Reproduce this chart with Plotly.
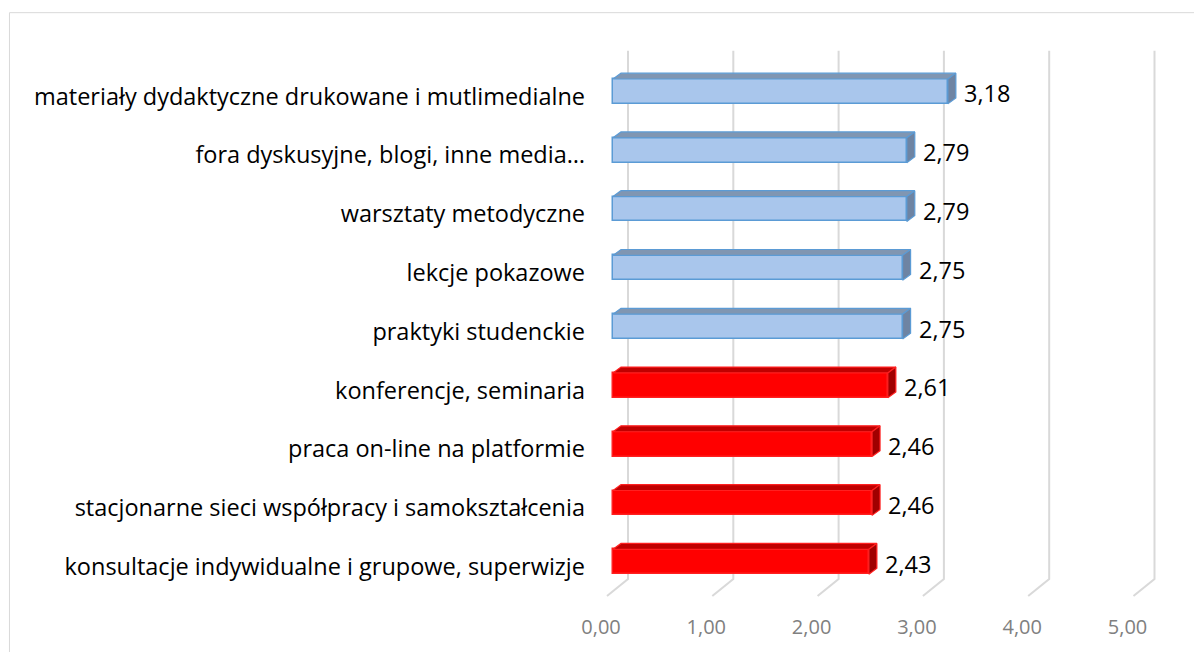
import plotly.graph_objects as go

# ---- data (top to bottom as shown) ----
categories = [
    "materiały dydaktyczne drukowane i mutlimedialne",
    "fora dyskusyjne, blogi, inne media…",
    "warsztaty metodyczne",
    "lekcje pokazowe",
    "praktyki studenckie",
    "konferencje, seminaria",
    "praca on-line na platformie",
    "stacjonarne sieci współpracy i samokształcenia",
    "konsultacje indywidualne i grupowe, superwizje",
]
values = [3.18, 2.79, 2.79, 2.75, 2.75, 2.61, 2.46, 2.46, 2.43]
highlight = [False, False, False, False, False, True, True, True, True]
tick_values = [0, 1, 2, 3, 4, 5]
tick_labels = ["0,00", "1,00", "2,00", "3,00", "4,00", "5,00"]

# ---- styling / 3D projection constants ----
FONT = "Open Sans"
BLUE_FRONT, BLUE_EDGE, BLUE_TOP, BLUE_SIDE = "#a9c6ec", "#5b9bd5", "#8096b2", "#6e84a3"
RED_FRONT, RED_EDGE, RED_TOP, RED_SIDE = "#ff0000", "#ff2020", "#c00000", "#a00000"
BAR_W = 0.423          # bar thickness in category units
DX, DY = 0.076, 0.10   # bar depth offset
BACK_DX = 0.1425       # back wall offset
WALL_TOP, WALL_BOT = 8.694, -0.296
FLOOR_DX, FLOOR_Y = -0.057, -0.584

n = len(categories)
pos = list(range(n - 1, -1, -1))  # top category gets highest position

fig = go.Figure()

# back wall gridlines + floor diagonals (below traces)
for t in tick_values:
    fig.add_shape(type="path", xref="x", yref="y", layer="below",
                  path=f"M {t + BACK_DX},{WALL_TOP} L {t + BACK_DX},{WALL_BOT} L {t + FLOOR_DX},{FLOOR_Y}",
                  line=dict(color="#d9d9d9", width=2))

# 3D faces
def faces(sel):
    tx, ty, sx, sy = [], [], [], []
    for v, p, h in zip(values, pos, highlight):
        if h != sel:
            continue
        top = p + BAR_W / 2
        bot = p - BAR_W / 2
        tx += [0, v, v + DX, DX, 0, None]
        ty += [top, top, top + DY, top + DY, top, None]
        sx += [v, v + DX, v + DX, v, v, None]
        sy += [bot, bot + DY, top + DY, top, bot, None]
    return tx, ty, sx, sy

# front faces
fig.add_trace(go.Bar(
    x=values, y=pos, orientation="h", width=BAR_W,
    marker=dict(color=[RED_FRONT if h else BLUE_FRONT for h in highlight],
                line=dict(color=[RED_EDGE if h else BLUE_EDGE for h in highlight], width=1.5)),
    showlegend=False, hoverinfo="skip",
))

for sel, ctop, cside, cedge in [(False, BLUE_TOP, BLUE_SIDE, BLUE_EDGE), (True, RED_TOP, RED_SIDE, RED_EDGE)]:
    tx, ty, sx, sy = faces(sel)
    fig.add_trace(go.Scatter(x=tx, y=ty, fill="toself", fillcolor=ctop, mode="lines",
                             line=dict(color=cedge, width=1.2), hoverinfo="skip", showlegend=False))
    fig.add_trace(go.Scatter(x=sx, y=sy, fill="toself", fillcolor=cside, mode="lines",
                             line=dict(color=cedge, width=1.2), hoverinfo="skip", showlegend=False))

# value labels
for v, p in zip(values, pos):
    fig.add_annotation(x=v, y=p, text=f"{v:.2f}".replace(".", ","), showarrow=False,
                       xanchor="left", yanchor="middle", xshift=14, yshift=-2,
                       font=dict(family=FONT, size=23.5, color="#000000"))

# chart border (top and left edges visible; right/bottom lie outside the view)
fig.add_shape(type="line", xref="paper", yref="paper", x0=-1.036, x1=1.1, y0=1.0575, y1=1.0575,
              line=dict(color="#d9d9d9", width=1))
fig.add_shape(type="line", xref="paper", yref="paper", x0=-1.036, x1=-1.036, y0=-0.2, y1=1.0575,
              line=dict(color="#d9d9d9", width=1))

fig.update_layout(
    width=1186, height=644,
    margin=dict(l=592, r=24, t=37, b=42),
    paper_bgcolor="white", plot_bgcolor="white",
    bargap=0,
    xaxis=dict(range=[-0.1235, 5.2897], tickvals=tick_values, ticktext=tick_labels,
               showgrid=False, zeroline=False, showline=False, ticks="",
               ticklabelshift=-12, ticklabelstandoff=6,
               tickfont=dict(family=FONT, size=20, color="#808080")),
    yaxis=dict(range=[-0.770, 8.790], tickvals=pos, ticktext=categories,
               showgrid=False, zeroline=False, showline=False, ticks="",
               ticklabelstandoff=14, ticklabelshift=5,
               tickfont=dict(family=FONT, size=23.5, color="#000000")),
)

fig.write_html("out.html")
